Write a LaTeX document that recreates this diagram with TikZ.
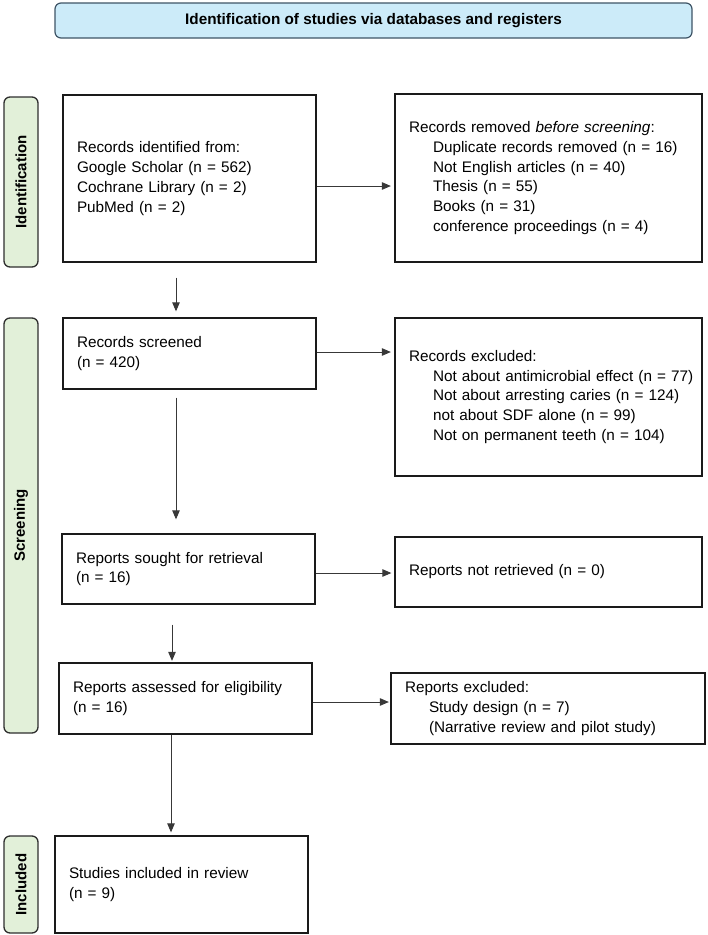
\documentclass[tikz,border=0pt]{standalone}
\usepackage{fontspec}
\setmainfont{Liberation Sans}
\usetikzlibrary{arrows.meta}
\definecolor{hdrfill}{HTML}{CCEBF9}
\definecolor{hdrdraw}{HTML}{3E5466}
\definecolor{labfill}{HTML}{E2F0D9}
\definecolor{labdraw}{HTML}{2E2E2E}
\definecolor{arrcol}{HTML}{383838}
\definecolor{boxdraw}{HTML}{1A1A1A}
\newcommand{\ind}{\hspace*{24pt}}
\begin{document}
\begin{tikzpicture}[x=1pt,y=-1pt,
  box/.style={draw=boxdraw, line width=1.3pt, fill=white, rectangle, inner xsep=14pt, inner ysep=2pt,
    align=left, font=\fontsize{15.3}{19.7}\selectfont},
  hdr/.style={draw=hdrdraw, line width=1.2pt, fill=hdrfill, rounded corners=6pt,
    font=\bfseries\fontsize{15.3}{18}\selectfont, inner sep=0pt},
  lab/.style={draw=labdraw, line width=1.3pt, fill=labfill, rounded corners=6pt, rotate=90,
    font=\bfseries\fontsize{15}{18}\selectfont, inner sep=0pt, minimum height=34pt},
  arr/.style={draw=arrcol, line width=0.9pt, -{Triangle[length=9pt,width=7.5pt]}}]
\useasboundingbox (0,0) rectangle (708,935);

% header
\node[hdr, minimum width=637pt, minimum height=35pt] (head) at (373.5,20.5)
  {Identification of studies via databases and registers};

% side labels
\node[lab, minimum width=170pt] (idlab) at (21,182) {Identification};
\node[lab, minimum width=415pt] (scrlab) at (21,525.5) {Screening};
\node[lab, minimum width=97pt] (inclab) at (21,884.5) {Included};

% boxes
\node[box, minimum width=253pt, minimum height=167pt, text width=225pt] (b1) at (189.5,178.5)
  {Records identified from:\\Google Scholar (n = 562)\\Cochrane Library (n = 2)\\PubMed (n = 2)};
\node[box, minimum width=307pt, minimum height=168pt, text width=279pt] (b2) at (548.5,178)
  {Records removed \textit{before screening}:\\\ind Duplicate records removed (n = 16)\\\ind Not English articles (n = 40)\\\ind Thesis (n = 55)\\\ind Books (n = 31)\\\ind conference proceedings (n = 4)};
\node[box, minimum width=307pt, minimum height=158pt, text width=279pt] (b4) at (548.5,397)
  {Records excluded:\\\ind \mbox{Not about antimicrobial effect (n = 77)}\\\ind \mbox{Not about arresting caries (n = 124)}\\\ind not about SDF alone (n = 99)\\\ind Not on permanent teeth (n = 104)};
\node[box, minimum width=253pt, minimum height=71pt, text width=225pt] (b3) at (189.5,353.5)
  {Records screened\\(n = 420)};
\node[box, minimum width=253pt, minimum height=70pt, text width=225pt] (b5) at (188.5,569)
  {Reports sought for retrieval\\(n = 16)};
\node[box, minimum width=307pt, minimum height=70pt, text width=279pt] (b6) at (548.5,572)
  {Reports not retrieved (n = 0)};
\node[box, minimum width=253pt, minimum height=71pt, text width=225pt] (b7) at (185.5,698.5)
  {Reports assessed for eligibility\\(n = 16)};
\node[box, minimum width=314pt, minimum height=71pt, text width=286pt] (b8) at (548,708.5)
  {Reports excluded:\\\ind Study design (n = 7)\\\ind (Narrative review and pilot study)};
\node[box, minimum width=253pt, minimum height=97pt, text width=225pt] (b9) at (181.5,884.5)
  {Studies included in review\\(n = 9)};

% connectors
\coordinate (s12) at ([yshift=-7.5pt]b1.east);
\draw[arr, shorten >=3.5pt] (s12) -- (s12 -| b2.west);
\coordinate (s13) at ([xshift=-13.5pt]b1.south);
\draw[arr, shorten <=15pt, shorten >=6pt] (s13) -- (s13 |- b3.north);
\coordinate (s34) at ([yshift=1.5pt]b3.east);
\draw[arr, shorten >=3.5pt] (s34) -- (s34 -| b4.west);
\coordinate (s35) at ([xshift=-13.5pt]b3.south);
\draw[arr, shorten <=8pt, shorten >=14pt] (s35) -- (s35 |- b5.north);
\coordinate (s56) at ([yshift=-4pt]b5.east);
\draw[arr, shorten >=3pt] (s56) -- (s56 -| b6.west);
\coordinate (s57) at ([xshift=-16.5pt]b5.south);
\draw[arr, shorten <=20pt, shorten >=1.5pt] (s57) -- (s57 |- b7.north);
\coordinate (s78) at ([yshift=-3.5pt]b7.east);
\draw[arr, shorten >=1.5pt] (s78) -- (s78 -| b8.west);
\coordinate (s79) at ([xshift=-14.5pt]b7.south);
\draw[arr, shorten >=3pt] (s79) -- (s79 |- b9.north);
\end{tikzpicture}
\end{document}
